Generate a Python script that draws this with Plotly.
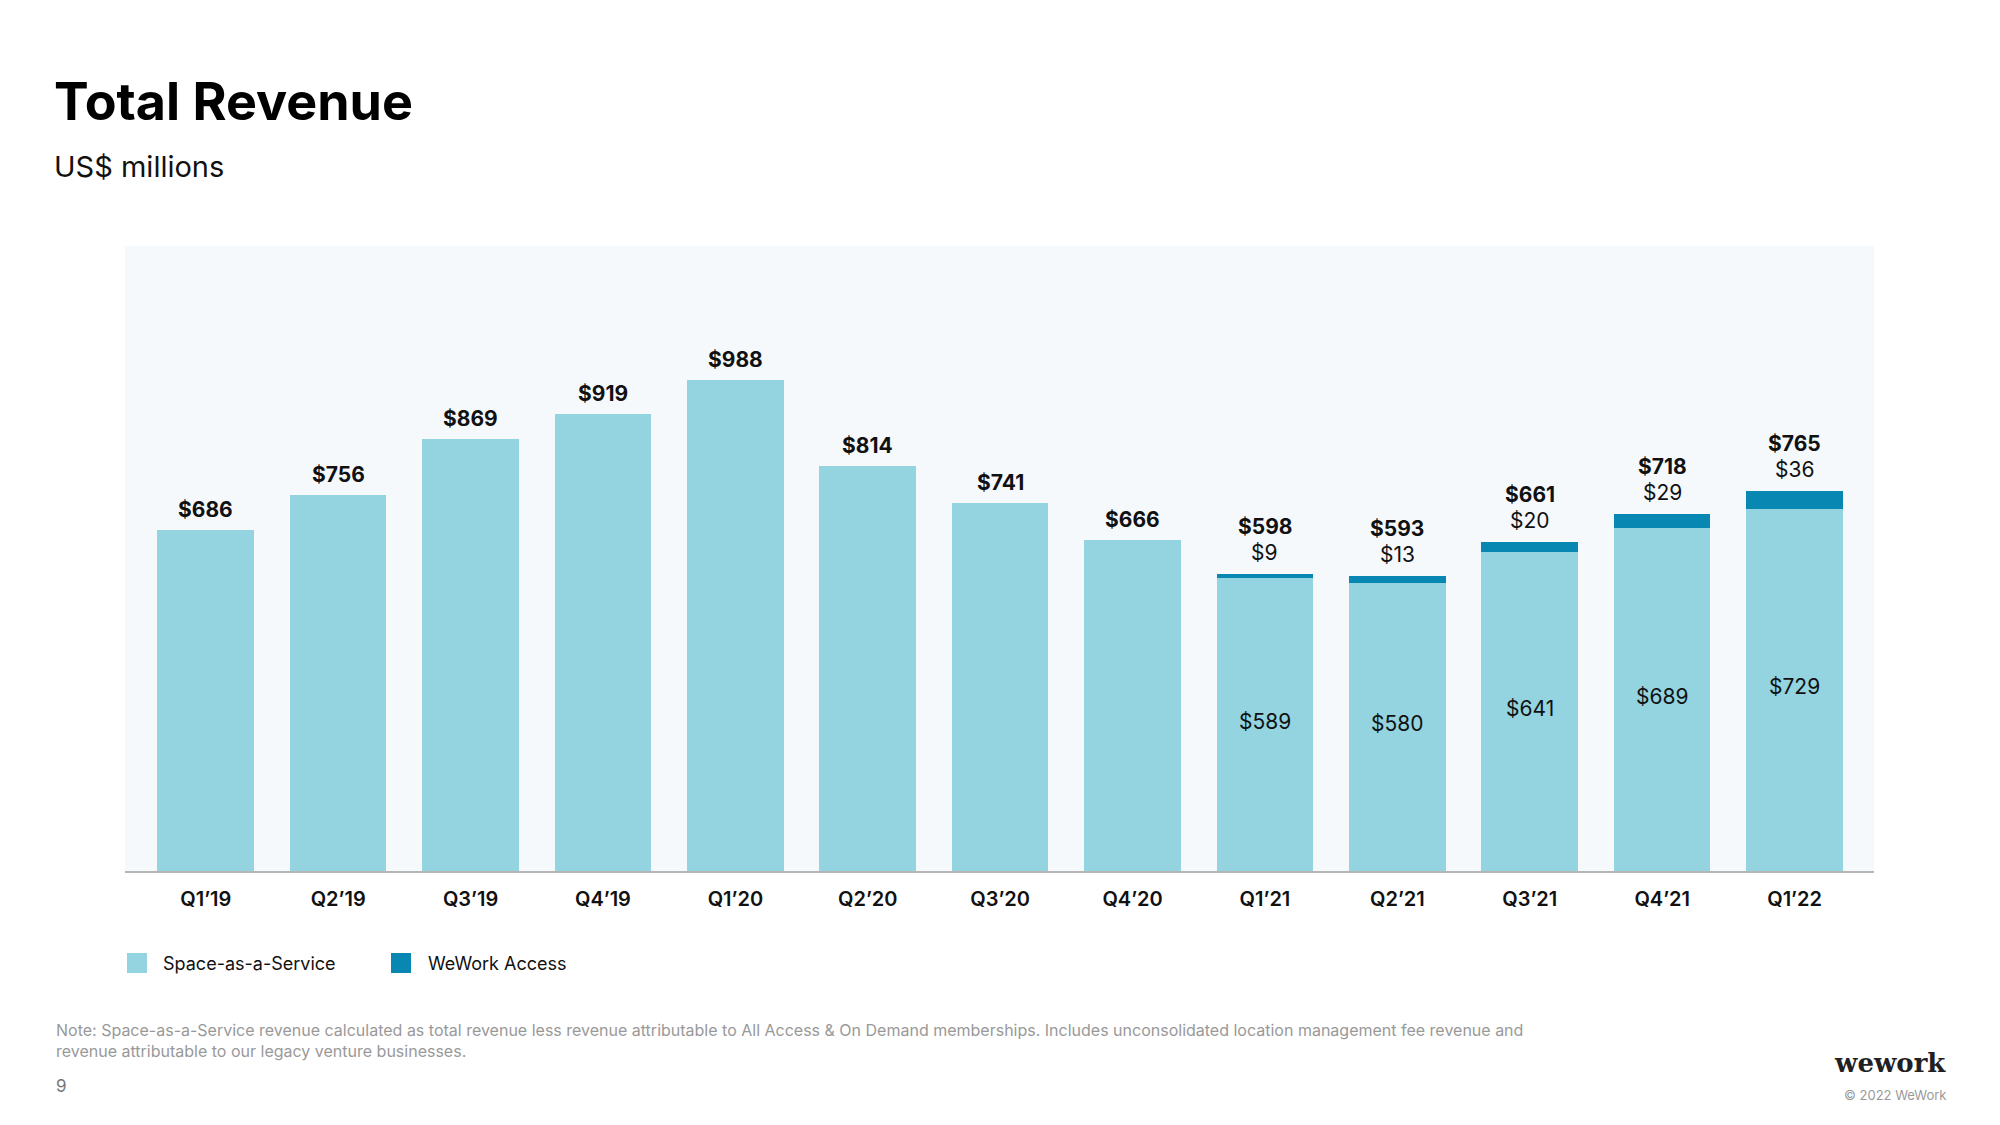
import plotly.graph_objects as go

quarters = ["Q1’19", "Q2’19", "Q3’19", "Q4’19", "Q1’20", "Q2’20", "Q3’20",
            "Q4’20", "Q1’21", "Q2’21", "Q3’21", "Q4’21", "Q1’22"]
saas = [686, 756, 869, 919, 988, 814, 741, 666, 589, 580, 641, 689, 729]
access = [0, 0, 0, 0, 0, 0, 0, 0, 9, 13, 20, 29, 36]
totals = [686, 756, 869, 919, 988, 814, 741, 666, 598, 593, 661, 718, 765]
legend_labels = ["Space-as-a-Service", "WeWork Access"]

SAAS_COLOR = "#93D4E0"
ACCESS_COLOR = "#0787B1"
FONT = "Inter"

# page-pixel helpers (plot area spans page x 125..1874, page y 246..871)
def px(x):
    return (x - 125) / 1749

def py(y):
    return (871 - y) / 625

fig = go.Figure()
fig.add_trace(go.Bar(x=quarters, y=saas, name=legend_labels[0],
                     marker=dict(color=SAAS_COLOR, line=dict(width=0)),
                     hoverinfo="skip", showlegend=False))
fig.add_trace(go.Bar(x=quarters, y=access, name=legend_labels[1],
                     marker=dict(color=ACCESS_COLOR, line=dict(width=0)),
                     hoverinfo="skip", showlegend=False))

ann = []
for q, s, a, t in zip(quarters, saas, access, totals):
    if a > 0:
        ann.append(dict(x=q, y=t, text=f"${a}", showarrow=False, yanchor="bottom",
                        yshift=7, font=dict(family=FONT, size=21, color="#111")))
        ann.append(dict(x=q, y=t, text=f"<b>${t}</b>", showarrow=False, yanchor="bottom",
                        yshift=33, font=dict(family=FONT, size=21, color="#111")))
        ann.append(dict(x=q, y=s * 0.51, text=f"${s}", showarrow=False, yanchor="middle",
                        font=dict(family=FONT, size=21, color="#111")))
    else:
        ann.append(dict(x=q, y=t, text=f"<b>${t}</b>", showarrow=False, yanchor="bottom",
                        yshift=6, font=dict(family=FONT, size=21, color="#111")))

ann += [
    dict(xref="paper", yref="paper", x=px(52), y=py(101), text="<b>Total Revenue</b>",
         showarrow=False, xanchor="left", yanchor="middle", font=dict(family=FONT, size=52, color="#000")),
    dict(xref="paper", yref="paper", x=px(52), y=py(166), text="US$ millions",
         showarrow=False, xanchor="left", yanchor="middle", font=dict(family=FONT, size=29, color="#111")),
    dict(xref="paper", yref="paper", x=px(54), y=py(1040),
         text="Note: Space-as-a-Service revenue calculated as total revenue less revenue attributable to All Access &amp; On Demand memberships. Includes unconsolidated location management fee revenue and<br>revenue attributable to our legacy venture businesses.",
         showarrow=False, xanchor="left", yanchor="middle", align="left",
         font=dict(family=FONT, size=16, color="#999")),
    dict(xref="paper", yref="paper", x=px(54), y=py(1086), text="9",
         showarrow=False, xanchor="left", yanchor="middle", font=dict(family=FONT, size=17, color="#777")),
    dict(xref="paper", yref="paper", x=px(1948), y=py(1063), text="<b>wework</b>",
         showarrow=False, xanchor="right", yanchor="middle",
         font=dict(family="DejaVu Serif", size=26, color="#1f1f24")),
    dict(xref="paper", yref="paper", x=px(1948), y=py(1095), text="© 2022 WeWork",
         showarrow=False, xanchor="right", yanchor="middle", font=dict(family=FONT, size=13, color="#999")),
    dict(xref="paper", yref="paper", x=px(161), y=py(963), text=legend_labels[0],
         showarrow=False, xanchor="left", yanchor="middle", font=dict(family=FONT, size=18, color="#111")),
    dict(xref="paper", yref="paper", x=px(426), y=py(963), text=legend_labels[1],
         showarrow=False, xanchor="left", yanchor="middle", font=dict(family=FONT, size=18, color="#111")),
]

shapes = [
    dict(type="rect", xref="paper", yref="paper", x0=px(127), x1=px(147), y0=py(973), y1=py(953),
         fillcolor=SAAS_COLOR, line=dict(width=0)),
    dict(type="rect", xref="paper", yref="paper", x0=px(391), x1=px(411), y0=py(973), y1=py(953),
         fillcolor=ACCESS_COLOR, line=dict(width=0)),
]

fig.update_layout(
    width=1992, height=1117,
    barmode="stack", bargap=0.27,
    paper_bgcolor="white", plot_bgcolor="#F5F9FC",
    margin=dict(l=117, r=126, t=238, b=254, autoexpand=False),
    annotations=ann, shapes=shapes,
    showlegend=False,
    font=dict(family=FONT),
)
fig.update_xaxes(range=[-0.61, 12.6], showline=True, linecolor="#B5B5B5", linewidth=2,
                 showgrid=False, ticks="", ticklabelstandoff=9,
                 tickfont=dict(family=FONT, size=20, color="#111", weight=600))
fig.update_yaxes(range=[0, 1257], showgrid=False, showticklabels=False, zeroline=False)

fig.write_html("out.html")
